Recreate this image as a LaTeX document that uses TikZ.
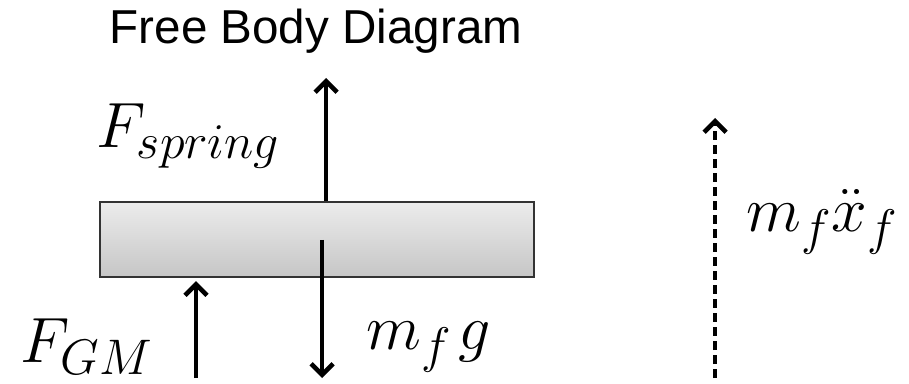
\RequirePackage{fix-cm}
\documentclass[tikz,border=0pt]{standalone}
\usepackage{fontspec}
\newfontfamily\titlefont{Liberation Sans}
\DeclareMathSizes{32}{32}{25}{20}
\usetikzlibrary{arrows.meta, positioning}
\tikzset{
    force/.style={line width=2.3pt, -{Straight Barb[length=5.5pt, width=11pt]}},
    forcetext/.style={inner sep=0pt, font=\fontsize{32}{38}\selectfont},
    accel/.style={force, dash pattern=on 4.5pt off 2.5pt}
}

\begin{document}
\begin{tikzpicture}[
		x=0.5pt, y=-0.5pt,
		plate/.style={rectangle, draw=black!80, line width=1.1pt, top color=gray!15, bottom color=gray!45, minimum width=217pt, minimum height=37.5pt, inner sep=0pt},
		heading/.style={anchor=base, inner sep=0pt, font=\titlefont\fontsize{23.8}{28}\selectfont}
		]
		\useasboundingbox (0,0) rectangle (909,384);
		
		% --- TITLE ---
		\node[heading] (title) at (316,44) {Free Body Diagram};
		
		% --- THE BODY ---
		\node[plate] (body) at (317,239.5) {};
		
		% --- FREE ENDS OF THE FORCES ---
		\coordinate (springtip) at (326,78);
		\coordinate (weightstart) at (322,240);
		\coordinate (weighttip) at (322,378);
		\coordinate (gmstart) at (196,378);
		\coordinate (accstart) at (715,378);
		\coordinate (acctip) at (715,118);
		
		% --- FORCES ---
		\draw[force] (body.north -| springtip) -- (springtip);
		\draw[force] (weightstart) -- (weighttip);
		\draw[force, shorten >=1.5pt] (gmstart) -- (gmstart |- body.south);
		\draw[accel] (accstart) -- (acctip);
		
		% --- LABELS ---
		\node[forcetext, anchor=base west] (fspring) at (96,148) {$F_{spring}$};
		\node[forcetext, anchor=base west] (fgm) at (20,362) {$F_{GM}$};
		\node[forcetext, anchor=base west] (weight) at (366,350) {$m_f\mkern2mu g$};
		\node[forcetext, anchor=base west] (inertia) at (746,232) {$m_f\ddot{x}_f$};
		
	\end{tikzpicture}
\end{document}
